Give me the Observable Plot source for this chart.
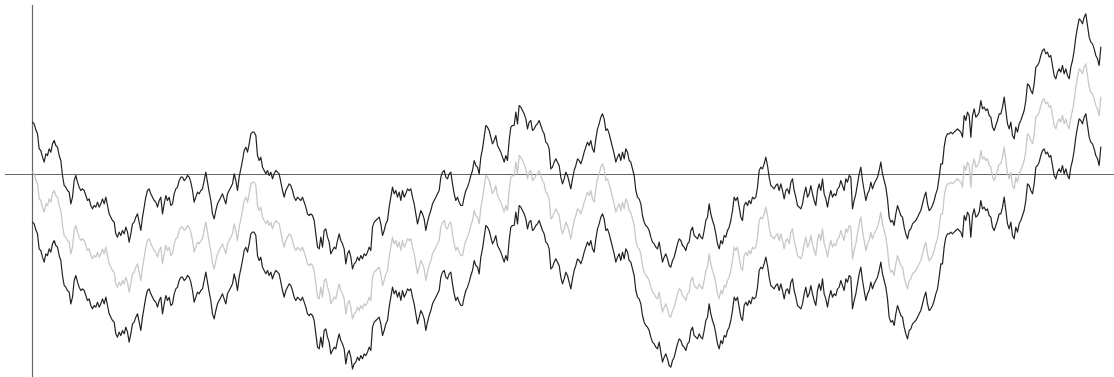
<!DOCTYPE html>
<html>
<head>
<meta charset="utf-8">
<script src="https://cdn.jsdelivr.net/npm/d3@7"></script>
<script src="https://cdn.jsdelivr.net/npm/@observablehq/plot@0.6"></script>
<style>
  html, body { margin: 0; padding: 0; background: #fff; }
</style>
</head>
<body>
<div id="chart"></div>
<script>
// Middle series of the random walk
const walk = [
  7,2,-16,-28,-73,-78,-98,-113,-88,-93,-73,-83,-58,-48,-63,-68,-93,-108,-153,-183,-188,-198,-203,-238,-218,-168,-153,-173,-188,-198,-193,-198,-213,-228,-223,-243,-253,-243,-248,-233,-248,-238,-223,-238,-218,-243,-268,
  -278,-288,-293,-328,-338,-323,-333,-318,-328,-308,-323,-353,-328,-298,-293,-278,-268,-293,-318,-278,-248,-218,-198,-193,-208,-218,-228,-233,-248,-228,-218,-268,-238,-213,-228,-218,-243,-238,-208,-193,-188,-168,-158,-158,-168,-163,-153,-158,-173,-198,-233,-218,-203,-208,-198,-193,-168,-143,-173,-203,
  -228,-268,-283,-258,-238,-228,-218,-208,-223,-238,-208,-198,-188,-178,-148,-168,-198,-158,-133,-108,-78,-68,-83,-58,-28,-23,-23,-33,-93,-108,-98,-128,-138,-148,-138,-153,-143,-163,-148,-138,-143,-148,-173,-198,-218,-198,-188,-178,-183,-198,-218,-228,-218,-223,-228,-218,-233,-248,-268,-273,
  -268,-273,-288,-328,-368,-373,-338,-368,-318,-313,-338,-353,-388,-378,-368,-373,-348,-328,-348,-358,-373,-418,-388,-378,-398,-433,-418,-413,-398,-408,-393,-403,-388,-393,-383,-368,-378,-308,-293,-288,-283,-278,-298,-333,-318,-298,-288,-248,-218,-188,-208,-198,-218,-203,-228,-198,-218,-208,-193,-198,
  -193,-218,-238,-268,-298,-278,-258,-268,-283,-318,-293,-273,-258,-238,-228,-218,-208,-198,-158,-143,-138,-158,-163,-148,-143,-178,-208,-228,-218,-233,-243,-243,-218,-198,-188,-173,-153,-138,-108,-123,-128,-148,-98,-73,-38,-3,-8,-18,-38,-58,-48,-33,-63,-73,-83,-98,-113,-93,-108,-48,
  -8,-3,-3,37,2,57,52,42,32,17,-13,7,12,-18,-13,-3,2,12,-3,-18,-28,-53,-58,-73,-133,-128,-113,-103,-113,-123,-158,-178,-163,-143,-153,-173,-193,-163,-138,-123,-103,-108,-118,-103,-83,-68,-53,-63,-48,-73,-83,-43,-13,2,22,32,17,-18,-13,-28,
  -48,-68,-88,-113,-98,-88,-108,-83,-103,-73,-83,-108,-113,-133,-153,-198,-218,-223,-238,-273,-293,-303,-308,-318,-338,-353,-358,-368,-373,-353,-383,-413,-398,-388,-403,-423,-428,-408,-398,-378,-358,-343,-348,-363,-368,-378,-358,-353,-318,-308,-333,-338,-343,-328,-338,-343,-318,-288,-278,-238,
  -268,-288,-303,-328,-358,-373,-348,-358,-333,-338,-318,-308,-288,-258,-218,-228,-218,-248,-278,-288,-243,-233,-243,-228,-238,-218,-223,-218,-188,-138,-128,-133,-118,-98,-123,-158,-183,-188,-193,-183,-178,-198,-178,-198,-223,-198,-193,-208,-173,-163,-198,-218,-243,-248,-253,-238,-208,-188,-218,-208,
  -183,-208,-228,-243,-198,-178,-198,-163,-208,-223,-248,-218,-198,-218,-208,-213,-193,-188,-168,-183,-198,-163,-173,-153,-158,-253,-228,-208,-178,-148,-128,-168,-198,-228,-208,-198,-173,-193,-178,-168,-158,-138,-113,-148,-168,-188,-223,-278,-293,-288,-303,-268,-243,-258,-273,-278,-308,-328,-343,-318,
  -313,-298,-293,-288,-278,-268,-258,-238,-218,-203,-238,-258,-253,-243,-228,-208,-193,-158,-118,-118,-68,-38,-28,-28,-23,-28,-23,-18,-13,-18,-23,-38,27,12,37,27,-38,27,47,22,27,37,72,47,52,42,47,27,22,-8,-18,-3,12,32,
  32,52,82,42,2,-13,7,-33,-43,-8,-23,2,12,27,42,72,122,117,102,92,122,172,177,187,207,222,227,212,217,202,207,177,147,137,157,167,157,177,152,167,147,137,172,192,222,262,292,317,312,302,322,332,297,262,247,242,227,207,197,177,232
];
// Band offset of the upper and lower series
const bandOffset = 150;

const upper = walk.map((v, i) => ({i, v: v + bandOffset}));
const middle = walk.map((v, i) => ({i, v}));
const lower = walk.map((v, i) => ({i, v: v - bandOffset}));

const chart = Plot.plot({
  width: 1114,
  height: 377,
  marginTop: 5,
  marginRight: 0,
  marginBottom: 0,
  marginLeft: 5,
  x: {domain: [-16.2, 649.2], axis: null},
  y: {domain: [-609, 507], axis: null},
  marks: [
    Plot.ruleY([0], {stroke: "#666", strokeWidth: 1.2}),
    Plot.ruleX([0], {stroke: "#666", strokeWidth: 1.2}),
    Plot.line(middle, {x: "i", y: "v", stroke: "#c8c8c8", strokeWidth: 1.3}),
    Plot.line(upper, {x: "i", y: "v", stroke: "#222", strokeWidth: 1.2}),
    Plot.line(lower, {x: "i", y: "v", stroke: "#222", strokeWidth: 1.2})
  ]
});
document.getElementById("chart").appendChild(chart);
</script>
</body>
</html>
